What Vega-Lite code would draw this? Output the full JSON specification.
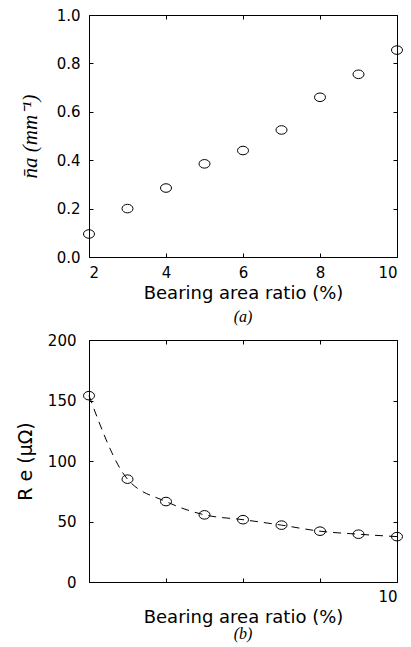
{
  "$schema": "https://vega.github.io/schema/vega-lite/v6.json",
  "padding": {"left": 15, "top": 7, "right": 4, "bottom": 2},
  "spacing": 6,
  "background": "white",
  "config": {
    "view": {"stroke": "black", "strokeWidth": 1},
    "axis": {
      "grid": false,
      "domain": false,
      "tickColor": "black",
      "tickSize": -4,
      "labelFont": "DejaVu Sans",
      "labelFontSize": 15,
      "labelColor": "black",
      "labelPadding": 13,
      "titleFont": "DejaVu Sans",
      "titleFontSize": 19,
      "titleFontWeight": "normal",
      "titleColor": "black"
    }
  },
  "datasets": {
    "na": [
      {"ratio": 2, "na": 0.095},
      {"ratio": 3, "na": 0.2},
      {"ratio": 4, "na": 0.285},
      {"ratio": 5, "na": 0.385},
      {"ratio": 6, "na": 0.44},
      {"ratio": 7, "na": 0.525},
      {"ratio": 8, "na": 0.66},
      {"ratio": 9, "na": 0.755},
      {"ratio": 10, "na": 0.855}
    ],
    "re": [
      {"ratio": 2, "re": 154},
      {"ratio": 3, "re": 85},
      {"ratio": 4, "re": 66.5},
      {"ratio": 5, "re": 55.5},
      {"ratio": 6, "re": 51.5},
      {"ratio": 7, "re": 47},
      {"ratio": 8, "re": 42},
      {"ratio": 9, "re": 39.5},
      {"ratio": 10, "re": 37.5}
    ]
  },
  "vconcat": [
    {
      "width": 308,
      "height": 242,
      "title": {"text": "(a)", "orient": "bottom", "font": "Liberation Serif", "fontStyle": "italic", "fontWeight": "normal", "fontSize": 16, "offset": 7, "color": "black"},
      "data": {"name": "na"},
      "layer": [
        {
          "mark": {"type": "point", "shape": "M -1 0 A 1 0.78 0 1 0 1 0 A 1 0.78 0 1 0 -1 0 Z", "size": 121, "filled": false, "color": "black", "strokeWidth": 1, "opacity": 1},
          "encoding": {
            "x": {"field": "ratio", "type": "quantitative", "scale": {"domain": [2, 10]},
                  "axis": {"orient": "bottom", "values": [2, 4, 6, 8, 10], "labelPadding": 12, "title": "Bearing area ratio (%)", "titleFontSize": 18, "titlePadding": 4}},
            "y": {"field": "na", "type": "quantitative", "scale": {"domain": [0, 1]},
                  "axis": {"orient": "left", "values": [0, 0.2, 0.4, 0.6, 0.8, 1.0], "format": ".1f", "title": "n̄a (mm⁻¹)", "titleFont": "Liberation Serif", "titleFontStyle": "italic", "titleFontSize": 21, "titlePadding": 16}}
          }
        },
        {
          "mark": {"type": "point", "opacity": 0},
          "encoding": {
            "x": {"field": "ratio", "type": "quantitative", "scale": {"domain": [2, 10]},
                  "axis": {"orient": "top", "values": [2, 4, 6, 8, 10], "labels": false, "title": null}},
            "y": {"field": "na", "type": "quantitative", "scale": {"domain": [0, 1]},
                  "axis": {"orient": "right", "values": [0, 0.2, 0.4, 0.6, 0.8, 1.0], "labels": false, "title": null}}
          }
        }
      ],
      "resolve": {"axis": {"x": "independent", "y": "independent"}}
    },
    {
      "width": 308,
      "height": 242,
      "title": {"text": "(b)", "orient": "bottom", "font": "Liberation Serif", "fontStyle": "italic", "fontWeight": "normal", "fontSize": 16, "offset": 0, "color": "black"},
      "data": {"name": "re"},
      "layer": [
        {
          "mark": {"type": "line", "interpolate": "monotone", "strokeDash": [8, 6], "color": "black", "strokeWidth": 1},
          "encoding": {
            "x": {"field": "ratio", "type": "quantitative", "scale": {"domain": [2, 10]},
                  "axis": {"orient": "bottom", "values": [2, 4, 6, 8, 10], "labelExpr": "datum.value == 10 ? '10' : ''", "labelPadding": 11, "title": "Bearing area ratio (%)", "titleFontSize": 18, "titlePadding": 4}},
            "y": {"field": "re", "type": "quantitative", "scale": {"domain": [0, 200]},
                  "axis": {"orient": "left", "values": [0, 50, 100, 150, 200], "labelPadding": 17, "title": "R e (μΩ)", "titlePadding": 12}}
          }
        },
        {
          "mark": {"type": "point", "shape": "M -1 0 A 1 0.78 0 1 0 1 0 A 1 0.78 0 1 0 -1 0 Z", "size": 121, "filled": false, "color": "black", "strokeWidth": 1, "opacity": 1},
          "encoding": {
            "x": {"field": "ratio", "type": "quantitative", "scale": {"domain": [2, 10]},
                  "axis": {"orient": "top", "values": [2, 4, 6, 8, 10], "labels": false, "title": null}},
            "y": {"field": "re", "type": "quantitative", "scale": {"domain": [0, 200]},
                  "axis": {"orient": "right", "values": [0, 50, 100, 150, 200], "labels": false, "title": null}}
          }
        }
      ],
      "resolve": {"axis": {"x": "independent", "y": "independent"}}
    }
  ]
}
